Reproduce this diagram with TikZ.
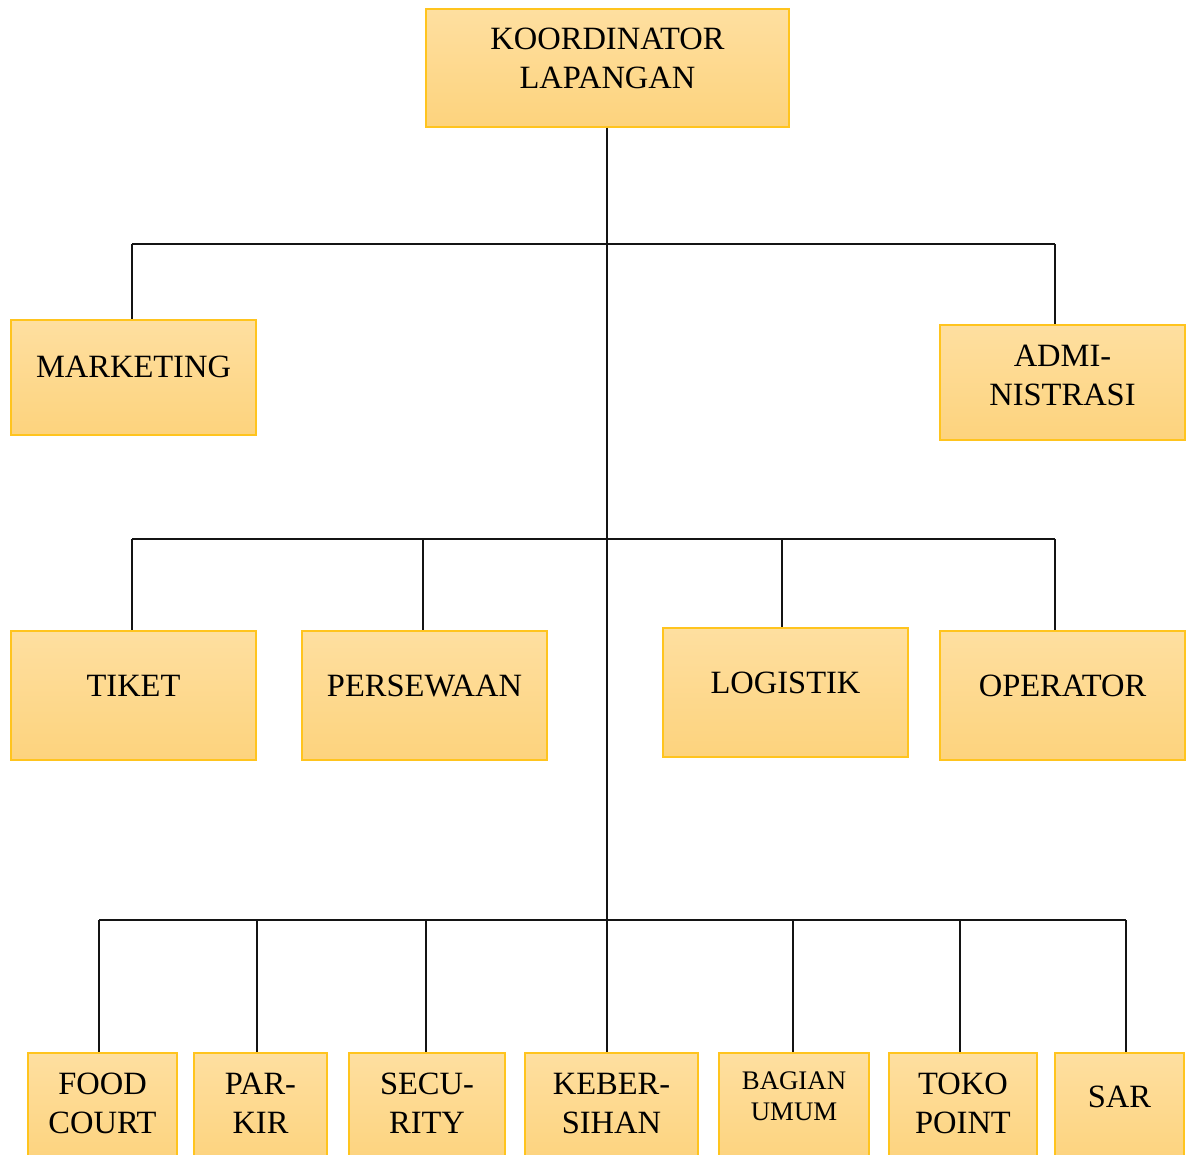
\documentclass[tikz,border=0pt]{standalone}
\usepackage{fontspec}
\setmainfont{Liberation Serif}
\definecolor{boxtop}{RGB}{254,223,160}
\definecolor{boxbot}{RGB}{253,211,125}
\definecolor{boxedge}{RGB}{255,196,30}
\definecolor{linecol}{RGB}{20,20,20}
\tikzset{
  box/.style={draw=boxedge, line width=1.3pt, top color=boxtop, bottom color=boxbot, inner sep=0pt, rectangle},
  lbl/.style={anchor=north, inner sep=0pt, align=center, font=\fontsize{32.5}{39}\selectfont, text=black},
  smalllbl/.style={anchor=north, inner sep=0pt, align=center, font=\fontsize{26.8}{31}\selectfont, text=black},
  conn/.style={draw=linecol, line width=1.2pt}
}
\begin{document}
\begin{tikzpicture}[x=1pt,y=-1pt]
\useasboundingbox (0,0) rectangle (1190,1154);
\clip (0,0) rectangle (1190,1154);
% boxes
\node[box, minimum width=363pt, minimum height=118pt] (koord) at (607.5,68) {};
\node[box, minimum width=245pt, minimum height=115pt] (mkt) at (133.5,377.5) {};
\node[box, minimum width=245pt, minimum height=115pt] (adm) at (1062.5,382.5) {};
\node[box, minimum width=245pt, minimum height=129pt] (tiket) at (133.5,695.5) {};
\node[box, minimum width=245pt, minimum height=129pt] (pers) at (424.5,695.5) {};
\node[box, minimum width=245pt, minimum height=129pt] (logi) at (785.5,692.5) {};
\node[box, minimum width=245pt, minimum height=129pt] (oper) at (1062.5,695.5) {};
\node[box, minimum width=149pt, minimum height=112pt] (food) at (102.5,1109) {};
\node[box, minimum width=133pt, minimum height=112pt] (park) at (260.5,1109) {};
\node[box, minimum width=156pt, minimum height=112pt] (secu) at (427,1109) {};
\node[box, minimum width=173pt, minimum height=112pt] (keb) at (611.5,1109) {};
\node[box, minimum width=150pt, minimum height=112pt] (bag) at (794,1109) {};
\node[box, minimum width=148pt, minimum height=112pt] (toko) at (963,1109) {};
\node[box, minimum width=129pt, minimum height=112pt] (sar) at (1119.5,1109) {};
% labels
\node[lbl] (tkoord) at (607.5,28) {KOORDINATOR\\LAPANGAN};
\node[lbl] (tmkt) at (133.5,356) {MARKETING};
\node[lbl] (tadm) at (1062.5,345) {ADMI-\\NISTRASI};
\node[lbl] (ttiket) at (133.5,675) {TIKET};
\node[lbl] (tpers) at (424.5,675) {PERSEWAAN};
\node[lbl] (tlogi) at (785.5,672) {LOGISTIK};
\node[lbl] (toper) at (1062.5,675) {OPERATOR};
\node[lbl] (tfood) at (102.5,1073) {FOOD\\COURT};
\node[lbl] (tpark) at (260.5,1073) {PAR-\\KIR};
\node[lbl] (tsecu) at (427,1073) {SECU-\\RITY};
\node[lbl] (tkeb) at (611.5,1073) {KEBER-\\SIHAN};
\node[smalllbl] (tbag) at (794,1072) {BAGIAN\\UMUM};
\node[lbl] (ttoko) at (963,1073) {TOKO\\POINT};
\node[lbl] (tsar) at (1119.5,1086) {SAR};
% junction coordinates
\coordinate (h1l) at (132,244);
\coordinate (h1r) at (1055,244);
\coordinate (h2l) at (132,539);
\coordinate (h2r) at (1055,539);
\coordinate (h3l) at (99,920);
\coordinate (h3r) at (1126,920);
\coordinate (trunk) at (607,920);
% connectors
\draw[conn] (koord.south -| trunk) -- (trunk);
\draw[conn] (h1l) -- (h1r);
\draw[conn] (h2l) -- (h2r);
\draw[conn] (h3l) -- (h3r);
\draw[conn] (h1l) -- (h1l |- mkt.north);
\draw[conn] (h1r) -- (h1r |- adm.north);
\draw[conn] (h2l) -- (h2l |- tiket.north);
\draw[conn] (423,539) -- (423,539 |- pers.north);
\draw[conn] (782,539) -- (782,539 |- logi.north);
\draw[conn] (h2r) -- (h2r |- oper.north);
\draw[conn] (h3l) -- (h3l |- food.north);
\draw[conn] (257,920) -- (257,920 |- park.north);
\draw[conn] (426,920) -- (426,920 |- secu.north);
\draw[conn] (trunk) -- (trunk |- keb.north);
\draw[conn] (793,920) -- (793,920 |- bag.north);
\draw[conn] (960,920) -- (960,920 |- toko.north);
\draw[conn] (h3r) -- (h3r |- sar.north);
\end{tikzpicture}
\end{document}
